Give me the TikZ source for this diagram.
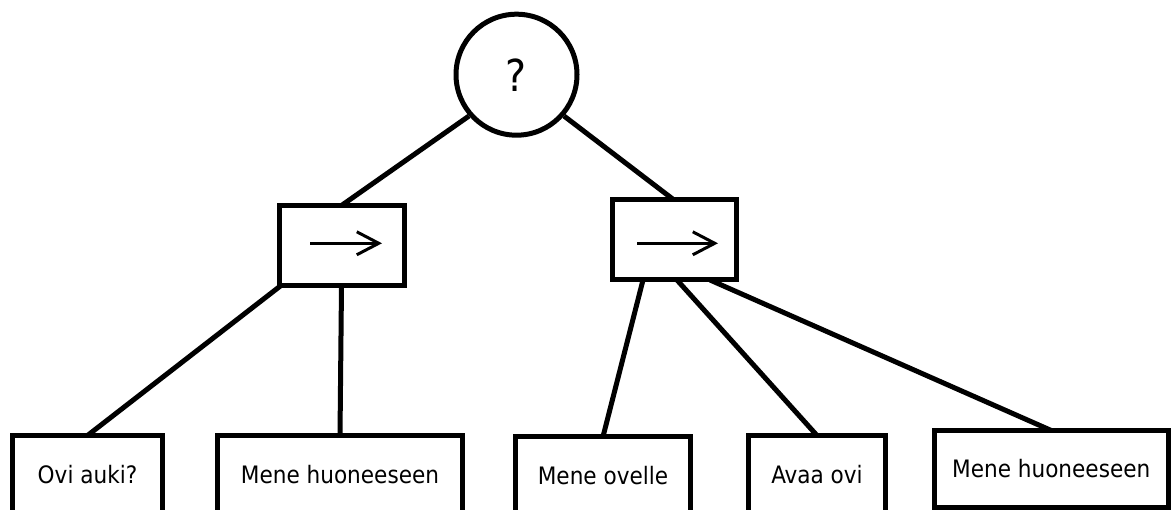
\documentclass[tikz,border=0pt]{standalone}
\usepackage{fontspec}
\setmainfont{DejaVu Sans Condensed}
\usetikzlibrary{arrows.meta}
\begin{document}
\begin{tikzpicture}[x=1pt,y=-1pt,
  thick line/.style={line width=5pt},
  edge/.style={thick line},
  selector/.style={draw,thick line,circle,minimum size=121pt,inner sep=0pt,
    font=\fontsize{44}{50}\selectfont},
  sequence/.style={draw,thick line,rectangle,inner sep=0pt,outer sep=0pt,anchor=north west},
  leaf/.style={draw,thick line,rectangle,inner sep=0pt,outer sep=0pt,anchor=north west,
    font=\fontsize{24}{28}\selectfont},
  seqarrow/.style={line width=3pt,-{Straight Barb[length=22pt,width=23pt,line width=3pt]}}]
\useasboundingbox (0,0) rectangle (1171,510);
\clip (0,0) rectangle (1171,510);

% root selector
\node[selector] (root) at (516.5,74.7) {?};

% sequence nodes
\node[sequence,minimum width=125pt,minimum height=80pt] (seqL) at (279,205.5) {};
\node[sequence,minimum width=124pt,minimum height=80pt] (seqR) at (612,200) {};
\draw[seqarrow] ([shift={(-31.5,-2.2)}]seqL.center) -- ([shift={(40.5,-2.2)}]seqL.center);
\draw[seqarrow] ([shift={(-37,3.3)}]seqR.center) -- ([shift={(44,3.3)}]seqR.center);

% leaf actions and conditions
\node[leaf,minimum width=150pt,minimum height=78pt] (open) at (12.5,435.5) {Ovi auki?};
\node[leaf,minimum width=245pt,minimum height=78pt] (enterA) at (217.5,435.5) {Mene huoneeseen};
\node[leaf,minimum width=175pt,minimum height=78pt] (goto) at (515.5,436.7) {Mene ovelle};
\node[leaf,minimum width=137pt,minimum height=78pt] (opendoor) at (748.5,435.5) {Avaa ovi};
\node[leaf,minimum width=233.5pt,minimum height=77pt] (enterB) at (934.5,430.5) {Mene huoneeseen};

% connectors
\draw[edge] (root.221) -- (seqL.north);
\draw[edge] (root.319) -- (seqR.north);
\draw[edge] ([xshift=2pt]seqL.south west) -- (open.north);
\draw[edge] (seqL.south) -- (enterA.north);
\draw[edge] ([xshift=31pt]seqR.south west) -- (goto.north);
\draw[edge] ([xshift=3pt]seqR.south) -- (opendoor.north);
\draw[edge] ([xshift=-26pt]seqR.south east) -- (enterB.north);
\end{tikzpicture}
\end{document}
